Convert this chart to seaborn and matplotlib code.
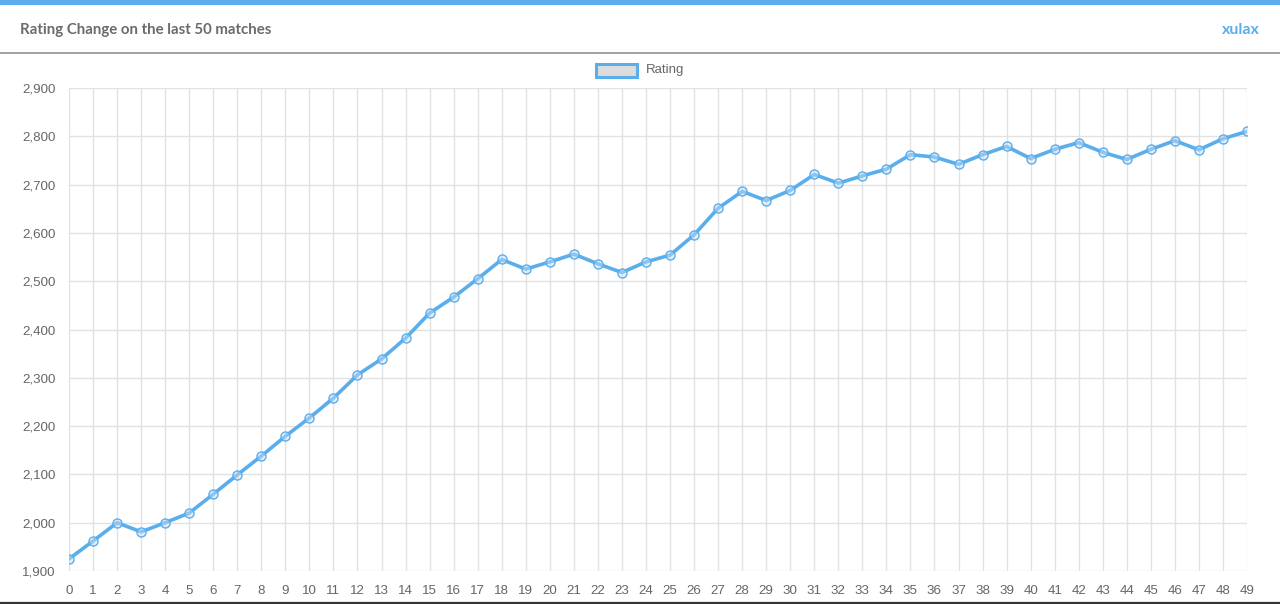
import matplotlib
matplotlib.use("Agg")
import matplotlib.pyplot as plt
import seaborn as sns
import pandas as pd
from matplotlib.patches import Rectangle
from matplotlib.lines import Line2D
from matplotlib.ticker import FuncFormatter

# ---------------- data ----------------
matches = list(range(50))
rating = [1925, 1962, 2000, 1981, 2000, 2020, 2059, 2099, 2138, 2179,
          2217, 2258, 2306, 2339, 2382, 2434, 2467, 2505, 2545, 2525,
          2540, 2556, 2536, 2518, 2540, 2554, 2596, 2651, 2686, 2667,
          2688, 2721, 2703, 2718, 2732, 2762, 2757, 2742, 2762, 2779,
          2754, 2773, 2787, 2767, 2752, 2773, 2791, 2772, 2795, 2810]
y_ticks = [1900, 2000, 2100, 2200, 2300, 2400, 2500, 2600, 2700, 2800, 2900]
title_text = "Rating Change on the last 50 matches"
user_text = "xulax"
series_name = "Rating"

# ---------------- style ----------------
BLUE = "#5aaeec"
GRID = "#e2e2e2"
TXT = "#666666"
W, H = 1280, 604

sns.set_theme(style="white")
plt.rcParams["font.family"] = ["Liberation Sans", "DejaVu Sans"]

fig = plt.figure(figsize=(W / 100, H / 100), dpi=100)
fig.patch.set_facecolor("white")

def fx(px):
    return px / W

def fy(py):
    return 1 - py / H

# header decorations
fig.add_artist(Rectangle((0, fy(5)), 1, 5 / H, transform=fig.transFigure,
                         color="#5aaeec", lw=0))
fig.add_artist(Line2D([0, 1], [fy(52.5), fy(52.5)], transform=fig.transFigure,
                      color="#a0a0a0", lw=1.4))
fig.text(fx(20), fy(30), title_text, family=["Lato", "DejaVu Sans"],
         weight="bold", color="#6b6b6b", fontsize=10.8, va="center", ha="left")
fig.text(fx(1260), fy(30), user_text, family=["Lato", "DejaVu Sans"],
         weight="bold", color="#5aaeec", fontsize=11.5, va="center", ha="right")
fig.add_artist(Line2D([0, 1], [fy(603), fy(603)], transform=fig.transFigure,
                      color="#333333", lw=1.6))

# legend (Chart.js style)
fig.add_artist(Rectangle((fx(596), fy(77)), 41 / W, 13 / H, transform=fig.transFigure,
                         facecolor="#dcdcdc", edgecolor=BLUE, lw=2.2))
fig.text(fx(646), fy(70.5), series_name, color=TXT, fontsize=9.5,
         va="center", ha="left")

# ---------------- plot ----------------
ax = fig.add_axes([fx(69), fy(571), (1247 - 69) / W, (571 - 88) / H])
df = pd.DataFrame({"match": matches, "rating": rating})
sns.lineplot(data=df, x="match", y="rating", ax=ax, color=BLUE, linewidth=2.6,
             marker="o", markersize=6.5, markerfacecolor=(0.80, 0.88, 0.96, 0.45),
             markeredgecolor=BLUE, markeredgewidth=1.0, zorder=3)

ax.set_xlim(0, 49)
ax.set_ylim(1900, 2900)
ax.set_xticks(matches)
ax.set_yticks(y_ticks)
ax.yaxis.set_major_formatter(FuncFormatter(lambda v, p: f"{int(v):,}"))
ax.set_xlabel("")
ax.set_ylabel("")
ax.grid(True, color=GRID, lw=1.0)
ax.set_axisbelow(True)
for s in ax.spines.values():
    s.set_visible(False)
ax.tick_params(axis="both", length=7, width=1.0, color=GRID,
               labelcolor=TXT, labelsize=9.6, pad=2.5)
ax.tick_params(axis="x", pad=3)

fig.savefig("out.png", dpi=100, facecolor="white")
